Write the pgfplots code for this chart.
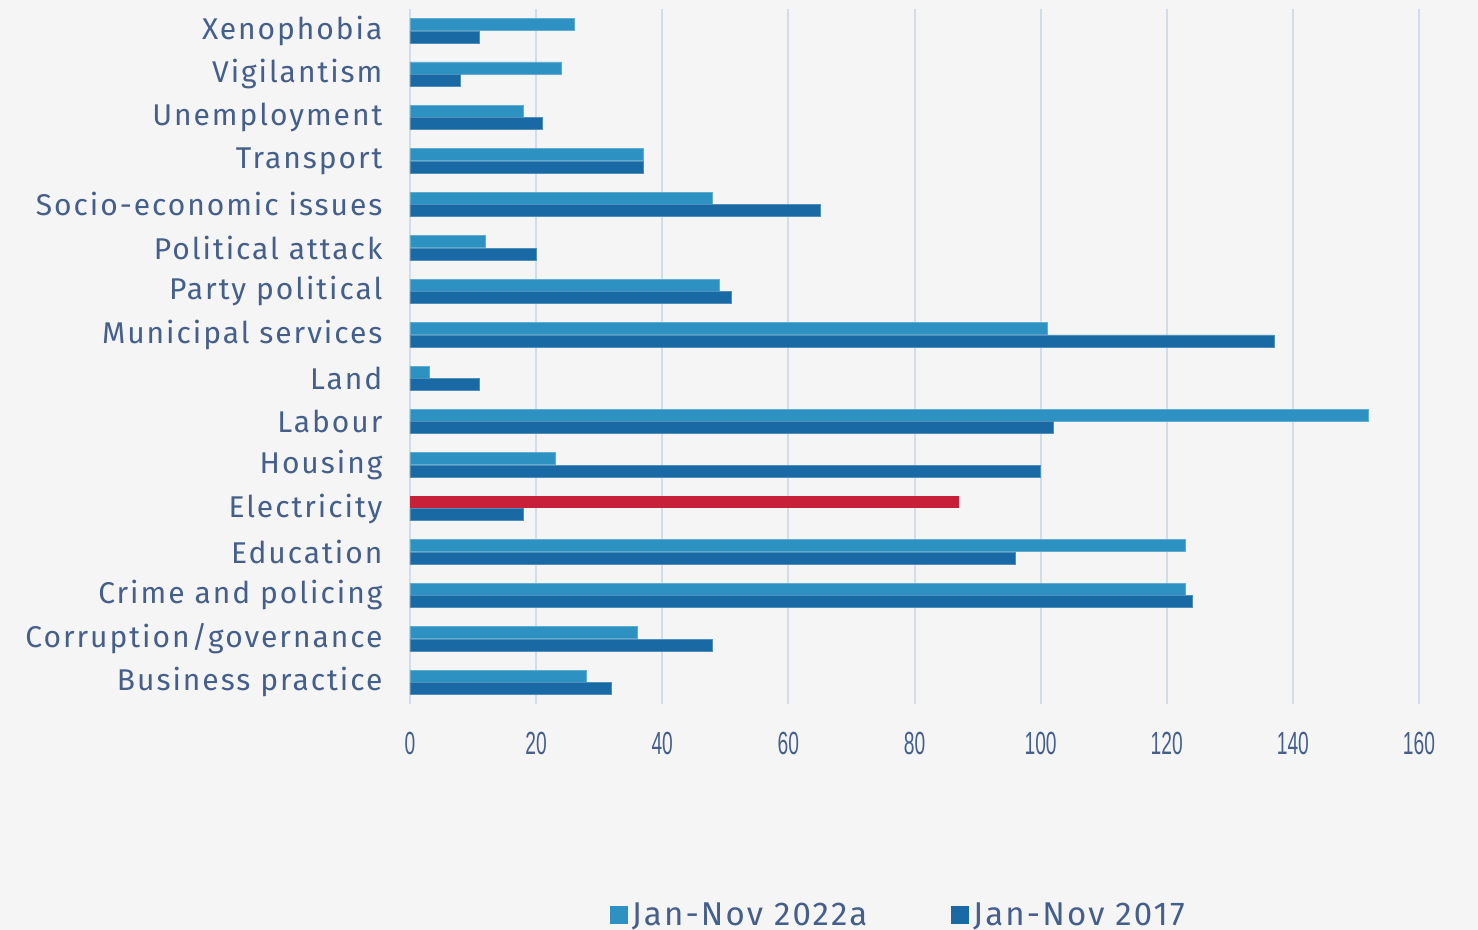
\documentclass[border=0pt]{standalone}
\usepackage{fontspec}
\setmainfont{Fira Sans}[LetterSpace=6.5]
\newfontfamily\tickfont{Liberation Sans}
\usepackage{graphicx}
\usepackage{pgfplots}
\pgfplotsset{compat=1.18}
\definecolor{bg}{RGB}{245,245,245}
\definecolor{txt}{RGB}{68,95,140}
\definecolor{gridc}{RGB}{211,221,233}
\definecolor{lightbar}{RGB}{45,146,194}
\definecolor{darkbar}{RGB}{25,105,165}
\definecolor{redbar}{RGB}{200,32,56}

\begin{document}
\begin{tikzpicture}
\fill[bg] (0pt,0pt) rectangle (739pt,465pt);
\begin{axis}[
    at={(205pt,113pt)}, anchor=south west,
    scale only axis, width=504.5pt, height=347.5pt,
    xbar, bar width=6pt,
    xmin=0, xmax=160, ymin=-0.5, ymax=15.5,
    xtick={0,20,...,160},
    ytick={0,...,15},
    yticklabels={Business practice, Corruption/governance, Crime and policing, Education, Electricity, Housing, Labour, Land, Municipal services, Party political, Political attack, Socio-economic issues, Transport, Unemployment, Vigilantism, Xenophobia},
    axis line style={draw=none},
    tick style={draw=none},
    xmajorgrids, grid style={gridc, line width=1pt},
    /pgf/number format/assume math mode=true,
    xticklabel={\scalebox{0.6}[1]{\pgfmathprintnumber{\tick}}},
    xticklabel style={font=\tickfont\fontsize{16}{19}\selectfont, text=txt, yshift=-10.5pt},
    yticklabel style={font=\fontsize{15}{18}\selectfont, text=txt, xshift=-6pt},
    legend style={at={(0.485,-0.304)}, anchor=center, draw=none, fill=none,
        font=\fontsize{16.5}{19}\selectfont, text=txt,
        /tikz/every even column/.append style={column sep=40pt}},
    legend columns=2,
]
% Jan-Nov 2022a (Electricity drawn separately in red)
\addplot[fill=lightbar, draw=lightbar!75!white, line width=0.4pt, bar shift=3.1pt,
    legend image code/.code={\fill[lightbar] (0pt,-4.25pt) rectangle (8.5pt,4.25pt);}]
    coordinates {(28,0) (36,1) (123,2) (123,3) (23,5) (152,6) (3,7) (101,8) (49,9) (12,10) (48,11) (37,12) (18,13) (24,14) (26,15)};
% Jan-Nov 2017
\addplot[fill=darkbar, draw=darkbar!75!white, line width=0.4pt, bar shift=-3.1pt,
    legend image code/.code={\fill[darkbar] (0pt,-4.25pt) rectangle (8.5pt,4.25pt);}]
    coordinates {(32,0) (48,1) (124,2) (96,3) (18,4) (100,5) (102,6) (11,7) (137,8) (51,9) (20,10) (65,11) (37,12) (21,13) (8,14) (11,15)};
\addplot[fill=redbar, draw=none, bar shift=3.1pt, forget plot]
    coordinates {(87,4)};
\legend{Jan-Nov 2022a, Jan-Nov 2017}
\end{axis}
\pgfresetboundingbox
\path[use as bounding box] (0pt,0pt) rectangle (739pt,465pt);
\end{tikzpicture}
\end{document}
